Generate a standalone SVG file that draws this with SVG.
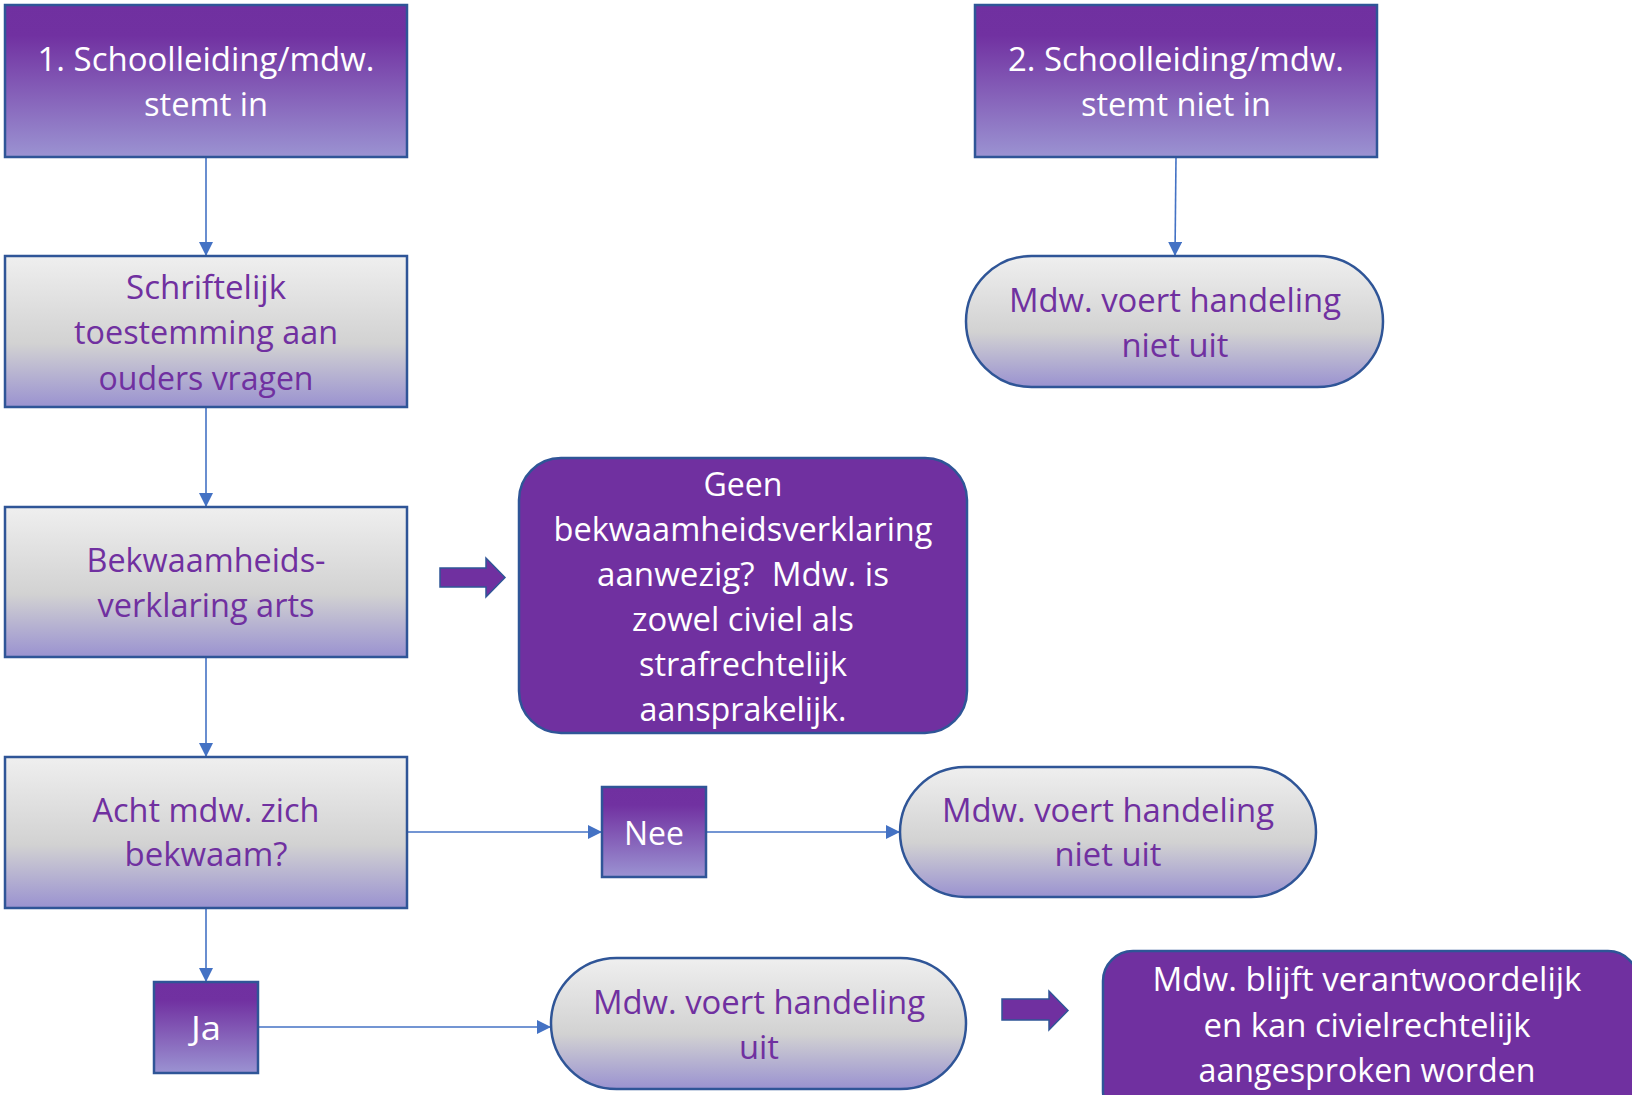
<svg xmlns="http://www.w3.org/2000/svg" width="1632" height="1095" viewBox="0 0 1632 1095">
<defs>
<linearGradient id="gPurple" x1="0" y1="0" x2="0" y2="1">
<stop offset="0" stop-color="#7030A0"/>
<stop offset="0.2" stop-color="#7131A1"/>
<stop offset="1" stop-color="#9B93D2"/>
</linearGradient>
<linearGradient id="gGrey" x1="0" y1="0" x2="0" y2="1">
<stop offset="0" stop-color="#EFEFEF"/>
<stop offset="0.58" stop-color="#D2D2D2"/>
<stop offset="1" stop-color="#9A92D0"/>
</linearGradient>
<marker id="ah" markerUnits="userSpaceOnUse" markerWidth="14" markerHeight="14" viewBox="0 0 14 14" refX="14" refY="7" orient="auto">
<path d="M0,0 L14,7 L0,14 Z" fill="#4472C4"/>
</marker>
</defs>
<style>
.box{stroke:#2F5597;stroke-width:2.5}
.pur{fill:url(#gPurple)}
.gry{fill:url(#gGrey)}
.solid{fill:#7030A0}
.t{font-family:"Open Sans","Liberation Sans",sans-serif;font-size:32px;text-anchor:middle}
.w{fill:#FFFFFF}
.p{fill:#7030A0}
.c{stroke:#4472C4;stroke-width:1.6;fill:none;marker-end:url(#ah)}
.big{fill:#7030A0;stroke:#2F5597;stroke-width:1.5}
</style>

<g id="connectors">
<line class="c" x1="206" y1="157" x2="206" y2="256"/>
<line class="c" x1="206" y1="407" x2="206" y2="507"/>
<line class="c" x1="206" y1="657" x2="206" y2="757"/>
<line class="c" x1="206" y1="908" x2="206" y2="982"/>
<line class="c" x1="1176" y1="157" x2="1175" y2="256"/>
<line class="c" x1="407" y1="832" x2="602" y2="832"/>
<line class="c" x1="706" y1="832" x2="900" y2="832"/>
<line class="c" x1="258" y1="1027" x2="551" y2="1027"/>
<path class="big" d="M440,568 H486 V558 L505,577.5 L486,597 V587 H440 Z"/>
<path class="big" d="M1002,999 H1049 V991 L1068,1010.5 L1049,1030 V1020 H1002 Z"/>
</g>

<g id="n1">
<rect class="box pur" x="5" y="5" width="402" height="152"/>
<text class="t w" x="206" y="71" textLength="337" lengthAdjust="spacingAndGlyphs">1. Schoolleiding/mdw.</text>
<text class="t w" x="206" y="116" textLength="124" lengthAdjust="spacingAndGlyphs">stemt in</text>
</g>

<g id="n2">
<rect class="box pur" x="975" y="5" width="402" height="152"/>
<text class="t w" x="1176" y="71" textLength="336" lengthAdjust="spacingAndGlyphs">2. Schoolleiding/mdw.</text>
<text class="t w" x="1176" y="116" textLength="190" lengthAdjust="spacingAndGlyphs">stemt niet in</text>
</g>

<g id="n3">
<rect class="box gry" x="5" y="256" width="402" height="151"/>
<text class="t p" x="206" y="299" textLength="160" lengthAdjust="spacingAndGlyphs">Schriftelijk</text>
<text class="t p" x="206" y="344" textLength="264" lengthAdjust="spacingAndGlyphs">toestemming aan</text>
<text class="t p" x="206" y="390" textLength="215" lengthAdjust="spacingAndGlyphs">ouders vragen</text>
</g>

<g id="n4">
<rect class="box gry" x="5" y="507" width="402" height="150"/>
<text class="t p" x="206" y="572" textLength="239" lengthAdjust="spacingAndGlyphs">Bekwaamheids-</text>
<text class="t p" x="206" y="617" textLength="217" lengthAdjust="spacingAndGlyphs">verklaring arts</text>
</g>

<g id="n5">
<rect class="box gry" x="5" y="757" width="402" height="151"/>
<text class="t p" x="206" y="822" textLength="227" lengthAdjust="spacingAndGlyphs">Acht mdw. zich</text>
<text class="t p" x="206" y="866" textLength="163" lengthAdjust="spacingAndGlyphs">bekwaam?</text>
</g>

<g id="n6">
<rect class="box gry" x="966" y="256" width="417" height="131" rx="65.5" ry="65.5"/>
<text class="t p" x="1175" y="312" textLength="332" lengthAdjust="spacingAndGlyphs">Mdw. voert handeling</text>
<text class="t p" x="1175" y="357" textLength="107" lengthAdjust="spacingAndGlyphs">niet uit</text>
</g>

<g id="n7">
<rect class="box solid" x="519" y="458" width="448" height="275" rx="42" ry="42"/>
<text class="t w" x="743" y="496" textLength="79" lengthAdjust="spacingAndGlyphs">Geen</text>
<text class="t w" x="743" y="541" textLength="379" lengthAdjust="spacingAndGlyphs">bekwaamheidsverklaring</text>
<text class="t w" x="743" y="586" textLength="292" lengthAdjust="spacingAndGlyphs" xml:space="preserve">aanwezig?  Mdw. is</text>
<text class="t w" x="743" y="631" textLength="222" lengthAdjust="spacingAndGlyphs">zowel civiel als</text>
<text class="t w" x="743" y="676" textLength="208" lengthAdjust="spacingAndGlyphs">strafrechtelijk</text>
<text class="t w" x="743" y="721" textLength="207" lengthAdjust="spacingAndGlyphs">aansprakelijk.</text>
</g>

<g id="n8">
<rect class="box pur" x="602" y="787" width="104" height="90"/>
<text class="t w" x="654" y="845" textLength="60" lengthAdjust="spacingAndGlyphs">Nee</text>
</g>

<g id="n9">
<rect class="box gry" x="900" y="767" width="416" height="130" rx="65" ry="65"/>
<text class="t p" x="1108" y="822" textLength="332" lengthAdjust="spacingAndGlyphs">Mdw. voert handeling</text>
<text class="t p" x="1108" y="866" textLength="107" lengthAdjust="spacingAndGlyphs">niet uit</text>
</g>

<g id="n10">
<rect class="box pur" x="154" y="982" width="104" height="91"/>
<text class="t w" x="206" y="1040" textLength="30" lengthAdjust="spacingAndGlyphs">Ja</text>
</g>

<g id="n11">
<rect class="box gry" x="551" y="958" width="415" height="131" rx="65.5" ry="65.5"/>
<text class="t p" x="759" y="1014" textLength="332" lengthAdjust="spacingAndGlyphs">Mdw. voert handeling</text>
<text class="t p" x="759" y="1059" textLength="40" lengthAdjust="spacingAndGlyphs">uit</text>
</g>

<g id="n12">
<rect class="box solid" x="1103" y="951" width="535" height="170" rx="30" ry="30"/>
<text class="t w" x="1367" y="991" textLength="429" lengthAdjust="spacingAndGlyphs">Mdw. blijft verantwoordelijk</text>
<text class="t w" x="1367" y="1037" textLength="327" lengthAdjust="spacingAndGlyphs">en kan civielrechtelijk</text>
<text class="t w" x="1367" y="1082" textLength="337" lengthAdjust="spacingAndGlyphs">aangesproken worden</text>
</g>
</svg>
